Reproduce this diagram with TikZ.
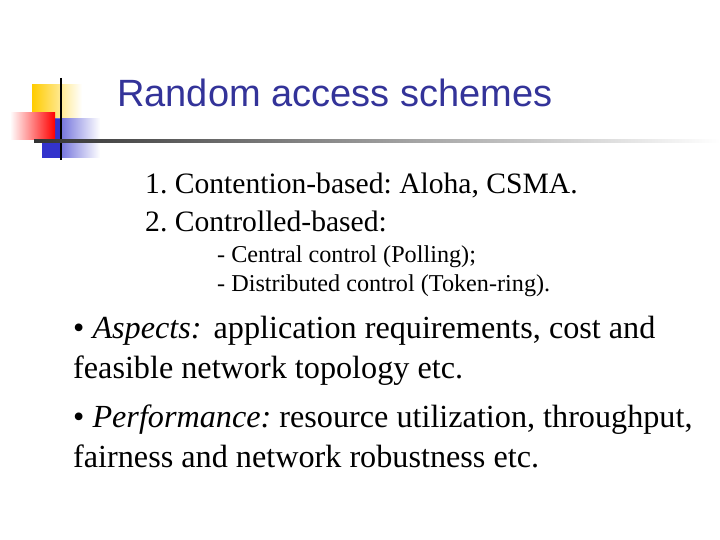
\documentclass[tikz,border=0pt]{standalone}
\usepackage{fontspec}
\setmainfont{Liberation Serif}
\newfontfamily\titlefont{Liberation Sans}
\definecolor{ttl}{RGB}{51,51,153}
\definecolor{yel}{RGB}{255,204,0}
\definecolor{blu}{RGB}{51,51,204}
\begin{document}
\frenchspacing
\begin{tikzpicture}[x=1pt,y=-1pt,
  txt/.style={anchor=base west,inner sep=0pt,font=\fontsize{29.6}{34}\selectfont},
  big/.style={anchor=base west,inner sep=0pt,font=\fontsize{32.2}{36}\selectfont},
  sub/.style={anchor=base west,inner sep=0pt,font=\fontsize{24.2}{26}\selectfont}]
\useasboundingbox (0,0) rectangle (720,540);
\shade[left color=yel,right color=white] (32,85) rectangle (82,121);
\shade[left color=blu,right color=white] (42,119) rectangle (100,158);
\fill[blu] (42,119) rectangle (60,158);
\shade[left color=white,right color=red] (10,113) rectangle (55,140);
\draw[line width=2.5pt] (61,78) -- (61,160);
\shade[left color=black!80,right color=white] (34,139.5) rectangle (720,142.5);
\node[txt,font=\titlefont\fontsize{38}{42}\selectfont,text=ttl] (t) at (117,107) {Random access schemes};
\node[txt] (a) at (145,194) {1. Contention-based: Aloha, CSMA.};
\node[txt] (b) at (145,232) {2. Controlled-based:};
\node[sub] (c) at (217,262) {- Central control (Polling);};
\node[sub] (d) at (217,291) {- Distributed control (Token-ring).};
\node[big] (e) at (73,338) {\textbullet{} \textit{Aspects:}\hspace{4pt} application requirements, cost and};
\node[big] (f) at (73,378) {feasible network topology etc.};
\node[big] (g) at (73,427) {\textbullet{} \textit{Performance:} resource utilization, throughput,};
\node[big] (h) at (73,467) {fairness and network robustness etc.};
\end{tikzpicture}
\end{document}
